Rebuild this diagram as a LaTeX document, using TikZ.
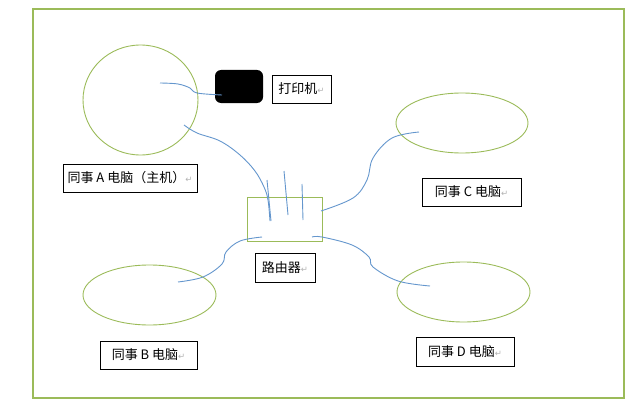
\documentclass[tikz,border=0pt]{standalone}
\usepackage{fontspec}
\usetikzlibrary{shapes.geometric}
\setmainfont{Noto Sans CJK SC}
\newfontfamily\symfont{DejaVu Sans}
\definecolor{frameg}{RGB}{155,187,89}
\definecolor{wire}{RGB}{100,150,205}
\newcommand{\parmark}{{\symfont\fontsize{8.5}{8.5}\selectfont\color{gray!60}↵}}
\begin{document}
\begin{tikzpicture}[x=1pt,y=-1pt,
  device/.style={draw=frameg, line width=0.9pt},
  label/.style={draw=black, line width=0.8pt, inner sep=0pt, text=black, font=\fontsize{13}{15}\selectfont},
  wireline/.style={draw=wire, line width=0.9pt}]
\useasboundingbox (0,0) rectangle (640,420);
\draw[frameg, line width=1.2pt] (33,9) rectangle (624,398);

% devices
\node[device, ellipse, minimum width=115pt, minimum height=110pt, inner sep=0pt] (A) at (140.5,100) {};
\node[device, ellipse, minimum width=132pt, minimum height=60pt, inner sep=0pt] (C) at (462,123) {};
\node[device, ellipse, minimum width=133pt, minimum height=60pt, inner sep=0pt] (B) at (149.5,295) {};
\node[device, ellipse, minimum width=133pt, minimum height=60pt, inner sep=0pt] (D) at (463.5,292) {};
\node[fill=black, rounded corners=6pt, minimum width=48pt, minimum height=33pt, inner sep=0pt] (P) at (239,86.5) {};
\node[device, rectangle, minimum width=75pt, minimum height=44pt, inner sep=0pt] (R) at (284.5,219) {};

% labels
\node[label, minimum width=59pt, minimum height=28pt] (lP) at (301.5,89) {打印机\parmark};
\node[label, minimum width=134pt, minimum height=28pt] (lA) at (130,178) {同事 A 电脑（主机）\parmark};
\node[label, minimum width=99pt, minimum height=28pt] (lC) at (471.5,192) {同事 C 电脑\parmark};
\node[label, minimum width=60pt, minimum height=29pt] (lR) at (285,267.5) {路由器\parmark};
\node[label, minimum width=97pt, minimum height=28pt] (lB) at (148.5,355) {同事 B 电脑\parmark};
\node[label, minimum width=98pt, minimum height=29pt] (lD) at (465,351.5) {同事 D 电脑\parmark};

% wire endpoints
\coordinate (a1) at (160,83);
\coordinate (p1) at (222,95);
\coordinate (a2) at (184,125);
\coordinate (r0) at (270,221);
\coordinate (rc) at (321,211);
\coordinate (c1) at (419,132);
\coordinate (rb) at (262,237);
\coordinate (b1) at (178,282);
\coordinate (rd) at (312,237);
\coordinate (d1) at (430,286);

% wires
\draw[wireline] plot[smooth, tension=0.6] coordinates {(a1) (178,84) (190,88) (197,93) (p1)};
\draw[wireline] plot[smooth, tension=0.6] coordinates {(a2) (197,133) (220,141) (240,155) (255,171) (264,187) (268,200) (r0)};
\draw[wireline] (267,180) -- (271,221);
\draw[wireline] (284,171) -- (288,215);
\draw[wireline] (302,184) -- (303,220);
\draw[wireline] plot[smooth, tension=0.6] coordinates {(rc) (353,198) (367,180) (373,158) (392,138) (c1)};
\draw[wireline] plot[smooth, tension=0.6] coordinates {(rb) (240,241) (226,252) (222,264) (203,277) (b1)};
\draw[wireline] plot[smooth, tension=0.6] coordinates {(rd) (322,237) (352,245) (369,257) (373,267) (398,281) (d1)};
\end{tikzpicture}
\end{document}
